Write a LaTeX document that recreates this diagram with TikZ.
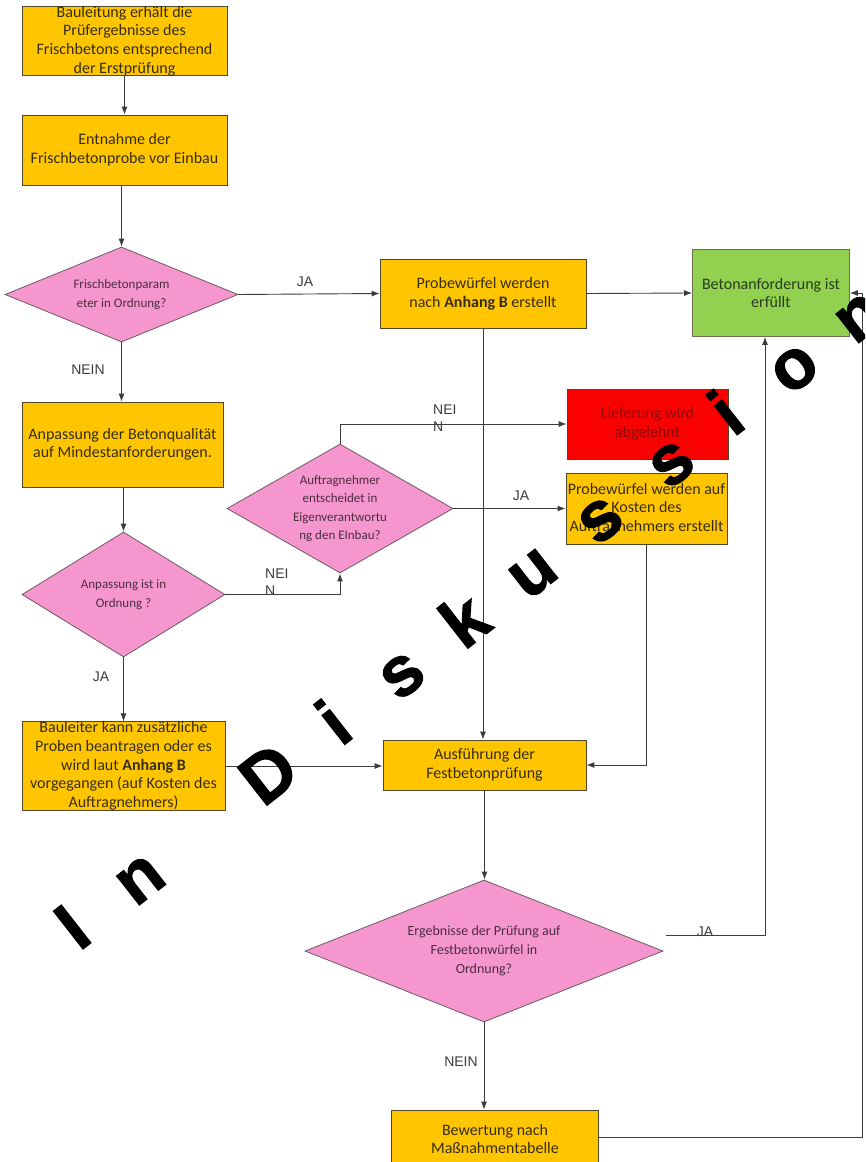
\documentclass[tikz,border=0pt]{standalone}
\usepackage{fontspec}
\setmainfont{Carlito}
\newfontfamily\labfont{Liberation Sans}
\newfontfamily\wmfont[FakeBold=1.5]{Liberation Sans Bold}
\usetikzlibrary{shapes.geometric,arrows.meta,calc}
\definecolor{boxyellow}{RGB}{255,198,0}
\definecolor{boxborder}{RGB}{80,70,40}
\definecolor{dpink}{RGB}{246,150,206}
\definecolor{diaborder}{RGB}{110,90,100}
\definecolor{okgreen}{RGB}{146,208,80}
\definecolor{nored}{RGB}{250,0,0}
\definecolor{txt}{RGB}{55,45,20}
\definecolor{dtxt}{RGB}{75,45,65}
\definecolor{redtxt}{RGB}{140,10,10}
\definecolor{greentxt}{RGB}{40,60,30}
\definecolor{lin}{RGB}{60,60,60}
\definecolor{labtxt}{RGB}{60,60,60}
\begin{document}
\begin{tikzpicture}[x=1pt,y=-1pt,
  box/.style={rectangle, draw=boxborder, line width=0.8pt, fill=boxyellow, inner sep=0pt,
    align=center, text=txt, font=\fontsize{16}{18.6}\selectfont},
  dia/.style={diamond, draw=diaborder, line width=0.8pt, fill=dpink, inner sep=-6pt,
    align=center, text=dtxt, font=\fontsize{13}{18.5}\selectfont},
  conn/.style={draw=lin, line width=0.9pt},
  arr/.style={conn, -{Latex[length=8pt,width=6pt]}},
  lab/.style={font=\labfont\fontsize{14}{17}\selectfont, text=labtxt, inner sep=0pt, align=left},
  wm/.style={font=\wmfont\fontsize{70}{70}\selectfont, text=black, rotate=38, inner sep=0pt, anchor=base}
]
\clip (0,0) rectangle (865,1162);
\fill[white] (0,0) rectangle (865,1162);

% boxes
\node[box, minimum width=205, minimum height=68] (b1) at (124.5,41)
  {Bauleitung erhält die\\Prüfergebnisse des\\Frischbetons entsprechend\\der Erstprüfung};
\node[box, minimum width=205, minimum height=70] (b2) at (124.5,150)
  {Entnahme der\\Frischbetonprobe vor Einbau};
\node[dia, shape aspect=2.45, minimum width=233, minimum height=95] (d1) at (121.5,294.5)
  {Frischbetonparam\\eter in Ordnung?};
\node[box, minimum width=206, minimum height=69] (b3) at (483,293.5)
  {Probewürfel werden\\nach \textbf{Anhang B} erstellt};
\node[box, fill=okgreen, text=greentxt, draw=boxborder!80, minimum width=157, minimum height=87] (g) at (771,293)
  {Betonanforderung ist\\erfüllt};
\node[box, minimum width=201, minimum height=85] (b4) at (122.5,444.5)
  {Anpassung der Betonqualität\\auf Mindestanforderungen.};
\node[box, fill=nored, text=redtxt, minimum width=161, minimum height=70] (red) at (647.5,424)
  {Lieferung wird\\abgelehnt};
\node[dia, shape aspect=1.75, minimum width=226, minimum height=129] (d3) at (340,508.5)
  {Auftragnehmer\\entscheidet in\\Eigenverantwortu\\ng den EInbau?};
\node[box, minimum width=161, minimum height=71] (b5) at (646.5,508.5)
  {Probewürfel werden auf\\Kosten des\\Auftragnehmers erstellt};
\node[dia, shape aspect=1.62, minimum width=203, minimum height=125] (d2) at (123.5,594.5)
  {Anpassung ist in\\Ordnung ?};
\node[box, minimum width=203, minimum height=82] (b6) at (123.5,766)
  {Bauleiter kann zusätzliche\\Proben beantragen oder es\\wird laut \textbf{Anhang B}\\vorgegangen (auf Kosten des\\Auftragnehmers)};
\node[box, minimum width=203, minimum height=50] (ex) at (484.5,765)
  {Ausführung der\\Festbetonprüfung};
\node[dia, shape aspect=2.52, minimum width=358, minimum height=142, font=\fontsize{14}{19}\selectfont] (d4) at (484,951)
  {Ergebnisse der Prüfung auf\\Festbetonwürfel in\\Ordnung?};
\node[box, minimum width=207, minimum height=58] (bw) at (495,1139)
  {Bewertung nach\\Maßnahmentabelle};

% connectors
\draw[arr] (b1.south) -- (b2.north);
\draw[arr] (d1.north |- b2.south) -- (d1.north);
\draw[arr] (d1.east) -- (b3.west);
\draw[arr] (b3.east) -- (g.west);
\draw[arr] (b3.south) -- (b3.south |- ex.north);
\draw[arr] (d1.south) -- (d1.south |- b4.north);
\draw[arr] (d2.north |- b4.south) -- (d2.north);
\draw[arr] (d2.east) -| (d3.south);
\draw[arr] (d3.north) |- (red.west);
\draw[arr] (d3.east) -- (d3.east -| b5.west);
\draw[arr] (b5.south) |- (ex.east);
\draw[arr] (d2.south) -- (b6.north);
\draw[arr] (b6.east) -- (b6.east -| ex.west);
\draw[arr] (ex.south) -- (ex.south |- d4.north);
\coordinate (d4ja) at ($(d4.east)+(3,-16)$);
\coordinate (gin) at ($(g.south)+(-6,0)$);
\draw[arr] (d4ja) -| (gin);
\draw[arr] (d4.south) -- (d4.south |- bw.north);
\coordinate (rc) at (862,1137);
\draw[arr] (bw.east |- rc) -- (rc) |- (g.east);

% labels
\node[lab] (l1) at (305,282) {JA};
\node[lab] (l2) at (88,370) {NEIN};
\node[lab, anchor=north west] (l3) at (265,569) {NEI\\N};
\node[lab, anchor=north west] (l4) at (433,405) {NEI\\N};
\node[lab] (l5) at (521,496) {JA};
\node[lab] (l6) at (101,677) {JA};
\node[lab] (l7) at (705,932) {JA};
\node[lab] (l8) at (461,1062) {NEIN};

% watermark
\node[wm] (w0) at (87.0,946.0) {I};
\node[wm] (w1) at (152.4,894.9) {n};
\node[wm] (w3) at (283.2,792.7) {D};
\node[wm] (w4) at (348.6,741.6) {i};
\node[wm] (w5) at (414.0,690.5) {s};
\node[wm] (w6) at (479.4,639.4) {k};
\node[wm] (w7) at (544.8,588.3) {u};
\node[wm] (w8) at (612.2,535.2) {s};
\node[wm] (w9) at (683.6,479.1) {s};
\node[wm] (w10) at (741.0,432.0) {i};
\node[wm] (w11) at (806.4,383.9) {o};
\node[wm] (w12) at (871.8,332.8) {n};
\end{tikzpicture}
\end{document}
